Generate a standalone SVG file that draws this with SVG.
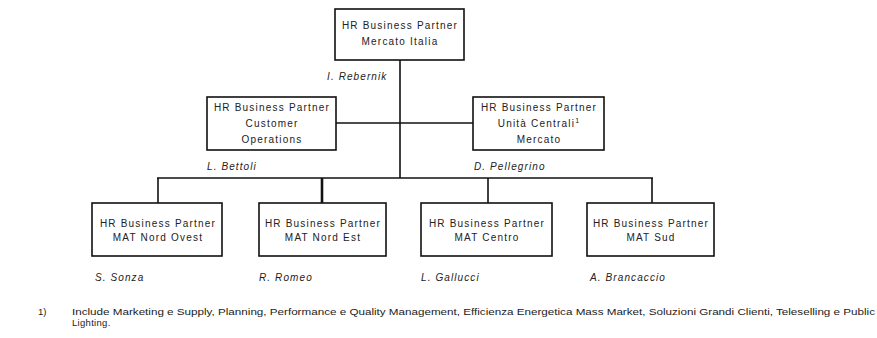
<svg xmlns="http://www.w3.org/2000/svg" width="877" height="338" viewBox="0 0 877 338">
<style>
.box{fill:#fff;stroke:#111;stroke-width:1.6}
.t{font-family:"Liberation Sans",Arial,sans-serif;font-size:10px;letter-spacing:1.2px;fill:#222;text-anchor:middle}
.n{font-family:"Liberation Sans",Arial,sans-serif;font-size:10px;letter-spacing:1.1px;font-style:italic;fill:#222}
.c{stroke:#111;stroke-width:1.6;fill:none}
.f{font-family:"Liberation Sans",Arial,sans-serif;font-size:9.5px;fill:#222}
</style>
<rect width="877" height="338" fill="#fff"/>
<g id="connectors">
<line class="c" x1="400" y1="60" x2="400" y2="178"/>
<line class="c" x1="336" y1="123" x2="473" y2="123"/>
<line class="c" x1="157" y1="178" x2="653" y2="178"/>
<line class="c" x1="158" y1="178" x2="158" y2="203"/>
<line class="c" x1="322" y1="178" x2="322" y2="203" style="stroke-width:2.6"/>
<line class="c" x1="488" y1="178" x2="488" y2="203"/>
<line class="c" x1="652" y1="178" x2="652" y2="203"/>
</g>
<g id="node-top">
<rect class="box" x="335" y="9" width="129" height="51"/>
<text class="t" x="400" y="29">HR Business Partner</text>
<text class="t" x="400" y="45">Mercato Italia</text>
<text class="n" x="327" y="80">I. Rebernik</text>
</g>
<g id="node-customer">
<rect class="box" x="207" y="97" width="129" height="53"/>
<text class="t" x="272" y="111">HR Business Partner</text>
<text class="t" x="272" y="127">Customer</text>
<text class="t" x="272" y="143">Operations</text>
<text class="n" x="207" y="170">L. Bettoli</text>
</g>
<g id="node-centrali">
<rect class="box" x="473" y="97" width="131" height="53"/>
<text class="t" x="539" y="111">HR Business Partner</text>
<text class="t" x="539" y="127">Unità Centrali<tspan font-size="7" dy="-4">1</tspan></text>
<text class="t" x="539" y="143">Mercato</text>
<text class="n" x="474" y="170">D. Pellegrino</text>
</g>
<g id="node-nordovest">
<rect class="box" x="92" y="203" width="130" height="53"/>
<text class="t" x="158" y="227">HR Business Partner</text>
<text class="t" x="158" y="241">MAT Nord Ovest</text>
<text class="n" x="95" y="281">S. Sonza</text>
</g>
<g id="node-nordest">
<rect class="box" x="259" y="203" width="127" height="53"/>
<text class="t" x="323" y="227">HR Business Partner</text>
<text class="t" x="323" y="241">MAT Nord Est</text>
<text class="n" x="259" y="281">R. Romeo</text>
</g>
<g id="node-centro">
<rect class="box" x="421" y="203" width="131" height="53"/>
<text class="t" x="487" y="227">HR Business Partner</text>
<text class="t" x="487" y="241">MAT Centro</text>
<text class="n" x="421" y="281">L. Gallucci</text>
</g>
<g id="node-sud">
<rect class="box" x="587" y="203" width="127" height="53"/>
<text class="t" x="651" y="227">HR Business Partner</text>
<text class="t" x="651" y="241">MAT Sud</text>
<text class="n" x="590" y="281">A. Brancaccio</text>
</g>
<g id="footnote">
<text class="f" x="38" y="315">1)</text>
<text class="f" x="72" y="315" textLength="803" lengthAdjust="spacingAndGlyphs">Include Marketing e Supply, Planning, Performance e Quality Management, Efficienza Energetica Mass Market, Soluzioni Grandi Clienti, Teleselling e Public</text>
<text class="f" x="72" y="326" font-size="10" letter-spacing="0.3">Lighting.</text>
</g>
</svg>
